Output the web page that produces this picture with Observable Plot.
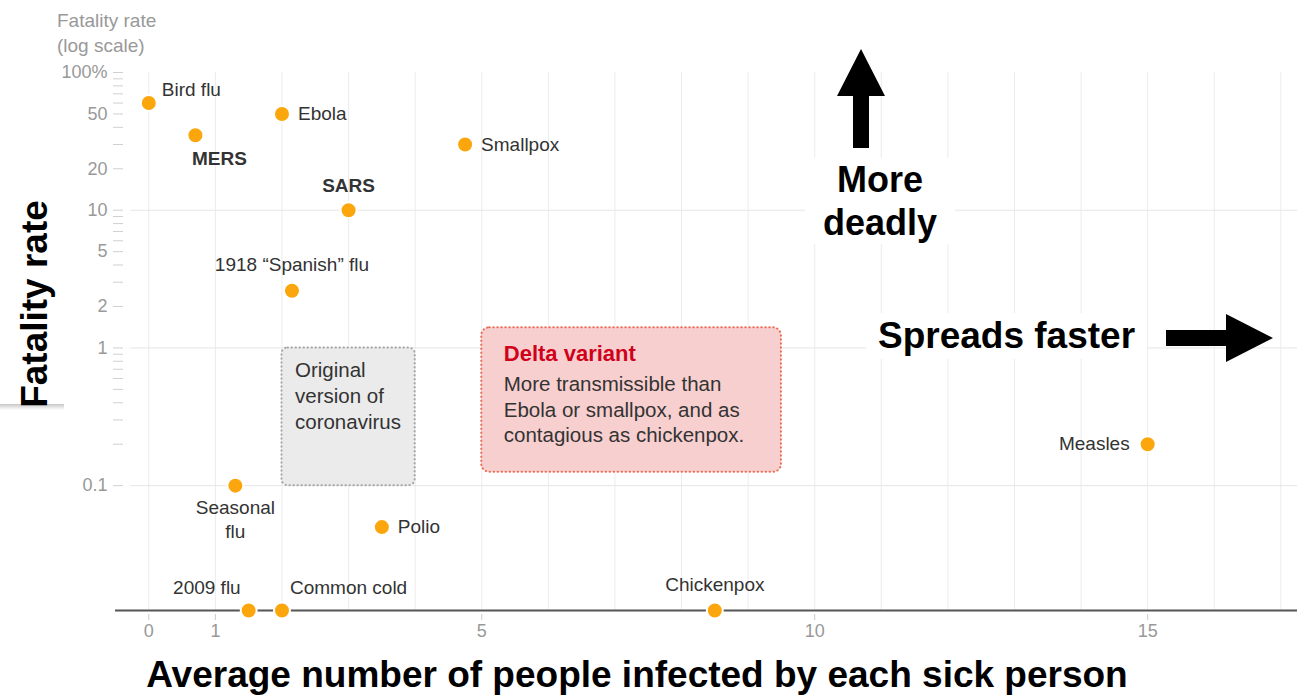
<!DOCTYPE html>
<html><head><meta charset="utf-8">
<script src="https://cdn.jsdelivr.net/npm/d3@7"></script>
<script src="https://cdn.jsdelivr.net/npm/@observablehq/plot@0.6"></script>
<style>
body{margin:0;background:#fff;font-family:"Liberation Sans",Arial,sans-serif;}
#wrap{position:relative;width:1302px;height:698px;overflow:hidden;background:#fff;}
#chart{position:absolute;left:0;top:0;}
.ov{position:absolute;white-space:nowrap;}
.big{font-weight:bold;font-size:37px;color:#000;}
</style></head><body>
<div id="wrap">
  <div id="chart"></div>
  <div class="ov" style="left:57px;top:8px;font-size:19px;line-height:25px;color:#999;">Fatality rate<br>(log scale)</div>
  <div class="ov big" style="left:0;top:190px;width:65px;height:215px;background:#fff;"></div>
  <div class="ov" style="left:0;top:404px;width:64px;height:6px;background:linear-gradient(to bottom,#c8c8c8,#fff);"></div>
  <div class="ov big" style="left:-80px;top:279px;width:230px;height:50px;line-height:50px;text-align:center;transform:rotate(-90deg);">Fatality rate</div>
  <div class="ov big" style="left:805px;top:158px;width:150px;text-align:center;line-height:43px;background:#fff;font-size:36px;">More<br>deadly</div>
  <div class="ov big" style="left:866px;top:313px;padding:2px 12px;line-height:42px;background:#fff;">Spreads faster</div>
  <svg class="ov" style="left:0;top:0;" width="1302" height="698">
    <polygon points="861,49 837,96 853,96 853,148 869,148 869,96 885,96" fill="#000"/>
    <polygon points="1166,330 1226,330 1226,314 1273,338 1226,362 1226,346 1166,346" fill="#000"/>
  </svg>
  <div class="ov big" style="left:0;top:655px;width:1274px;text-align:center;line-height:40px;font-size:37px;">Average number of people infected by each sick person</div>
</div>
<script>
// ---- data ----
const nearZero = 0.0124; // fatality too small to show: drawn on the baseline
const diseases = ["Bird flu", "MERS", "Ebola", "Smallpox", "SARS", "1918 “Spanish” flu",
  "Seasonal\nflu", "Polio", "2009 flu", "Common cold", "Chickenpox", "Measles"];
const spreadRate   = [0, 0.7, 2.0, 4.75, 3.0, 2.15, 1.3, 3.5, 1.5, 2.0, 8.5, 15];
const fatalityRate = [60, 35, 50, 30, 10, 2.6, 0.1, 0.05, nearZero, nearZero, nearZero, 0.2];

const yMajorTicks  = [100, 50, 20, 10, 5, 2, 1, 0.1];
const yMajorLabels = ["100%", "50", "20", "10", "5", "2", "1", "0.1"];
const yMinorTicks  = [90, 80, 70, 60, 40, 30, 9, 8, 7, 6, 4, 3, 0.9, 0.8, 0.7, 0.6, 0.5, 0.4, 0.3, 0.2];
const yGridTicks   = [10, 1, 0.1];
const xTicks       = [0, 1, 5, 10, 15];
const xGridTicks   = d3.range(0, 18);

const boxNames     = ["Original\nversion of\ncoronavirus", "Delta variant"];
const boxNotes     = ["", "More transmissible than\nEbola or smallpox, and as\ncontagious as chickenpox."];
const boxSpreadMin = [2, 5];
const boxSpreadMax = [4, 9.5];
const boxFatalMin  = [0.1, 0.125];
const boxFatalMax  = [1, 1.4];

// ---- build ----
const points = diseases.map((name, i) => ({name, x: spreadRate[i], y: fatalityRate[i]}));
const boxes = boxNames.map((name, i) => ({name, note: boxNotes[i], x1: boxSpreadMin[i], x2: boxSpreadMax[i], y1: boxFatalMin[i], y2: boxFatalMax[i]}));
const yLabels = yMajorTicks.map((v, i) => ({v, t: yMajorLabels[i]}));
const pick = names => points.filter(d => names.includes(d.name));
const lab = {x: "x", y: "y", text: "name", fontSize: 19, fill: "#333"};

const chart = Plot.plot({
  width: 1302, height: 655,
  marginLeft: 115, marginRight: 5, marginTop: 72, marginBottom: 45,
  style: {fontFamily: "'Liberation Sans', Arial, sans-serif", background: "transparent", overflow: "visible"},
  x: {domain: [-0.5, 17.25], axis: null},
  y: {type: "log", domain: [nearZero, 100], axis: null},
  marks: [
    Plot.ruleX(xGridTicks, {x: d => d, stroke: "#ececec", strokeWidth: 1}),
    Plot.ruleY(yGridTicks, {y: d => d, x1: -0.27, x2: 17.25, stroke: "#e6e6e6", strokeWidth: 1}),
    Plot.axisY({ticks: [...yMajorTicks, ...yMinorTicks], tickSize: 10, dx: 8, stroke: "#d0d0d0", tickFormat: () => "", label: null}),
    Plot.text(yLabels, {y: "v", text: "t", frameAnchor: "left", textAnchor: "end", dx: -8, fill: "#999", fontSize: 18}),
    Plot.axisX({ticks: xTicks, tickSize: 6, dy: 4, stroke: "#ccc", tickFormat: () => "", label: null}),
    Plot.axisX({ticks: xTicks, tickSize: 0, tickPadding: 14, fill: "#999", fontSize: 18, label: null}),
    Plot.rect(boxes.slice(0, 1), {x1: "x1", x2: "x2", y1: "y1", y2: "y2", rx: 6, fill: "#ebebeb", stroke: "#a8a8a8", strokeWidth: 2, strokeDasharray: "0.5,3.5", strokeLinecap: "round"}),
    Plot.rect(boxes.slice(1), {x1: "x1", x2: "x2", y1: "y1", y2: "y2", rx: 8, fill: "#f7cfcf", stroke: "#ec6e55", strokeWidth: 2, strokeDasharray: "0.5,3.5", strokeLinecap: "round", style: "filter: drop-shadow(0 0 3px rgba(240,120,100,0.45))"}),
    Plot.text(boxes.slice(0, 1), {x: "x1", y: "y2", text: "name", dx: 13, dy: 11, textAnchor: "start", lineAnchor: "top", fontSize: 20.5, lineHeight: 1.27, fill: "#333"}),
    Plot.text(boxes.slice(1), {x: "x1", y: "y2", text: "name", dx: 22, dy: 18, textAnchor: "start", lineAnchor: "top", fontSize: 22, fontWeight: "bold", fill: "#d0021b"}),
    Plot.text(boxes.slice(1), {x: "x1", y: "y2", text: "note", dx: 22, dy: 45, textAnchor: "start", lineAnchor: "top", fontSize: 20.5, lineHeight: 1.25, fill: "#333"}),
    Plot.ruleY([nearZero], {stroke: "#555", strokeWidth: 2}),
    Plot.dot(points, {x: "x", y: "y", r: 8, fill: "#fba60c", stroke: "#fff", strokeWidth: 2}),
    Plot.text(pick(["Ebola", "Smallpox", "Polio"]), {...lab, dx: 16, textAnchor: "start"}),
    Plot.text(pick(["Measles"]), {...lab, dx: -18, textAnchor: "end"}),
    Plot.text(pick(["1918 “Spanish” flu", "Chickenpox"]), {...lab, dy: -26}),
    Plot.text(pick(["SARS"]), {...lab, dy: -24, fontWeight: "bold"}),
    Plot.text(pick(["MERS"]), {...lab, dx: 24, dy: 24, fontWeight: "bold"}),
    Plot.text(pick(["Bird flu"]), {...lab, dx: 13, dy: -13, textAnchor: "start"}),
    Plot.text(pick(["Seasonal\nflu"]), {...lab, dy: 11, lineAnchor: "top", lineHeight: 1.27}),
    Plot.text(pick(["2009 flu"]), {...lab, dx: -8, dy: -23, textAnchor: "end"}),
    Plot.text(pick(["Common cold"]), {...lab, dx: 8, dy: -23, textAnchor: "start"})
  ]
});
document.getElementById("chart").appendChild(chart);
</script>
</body></html>
